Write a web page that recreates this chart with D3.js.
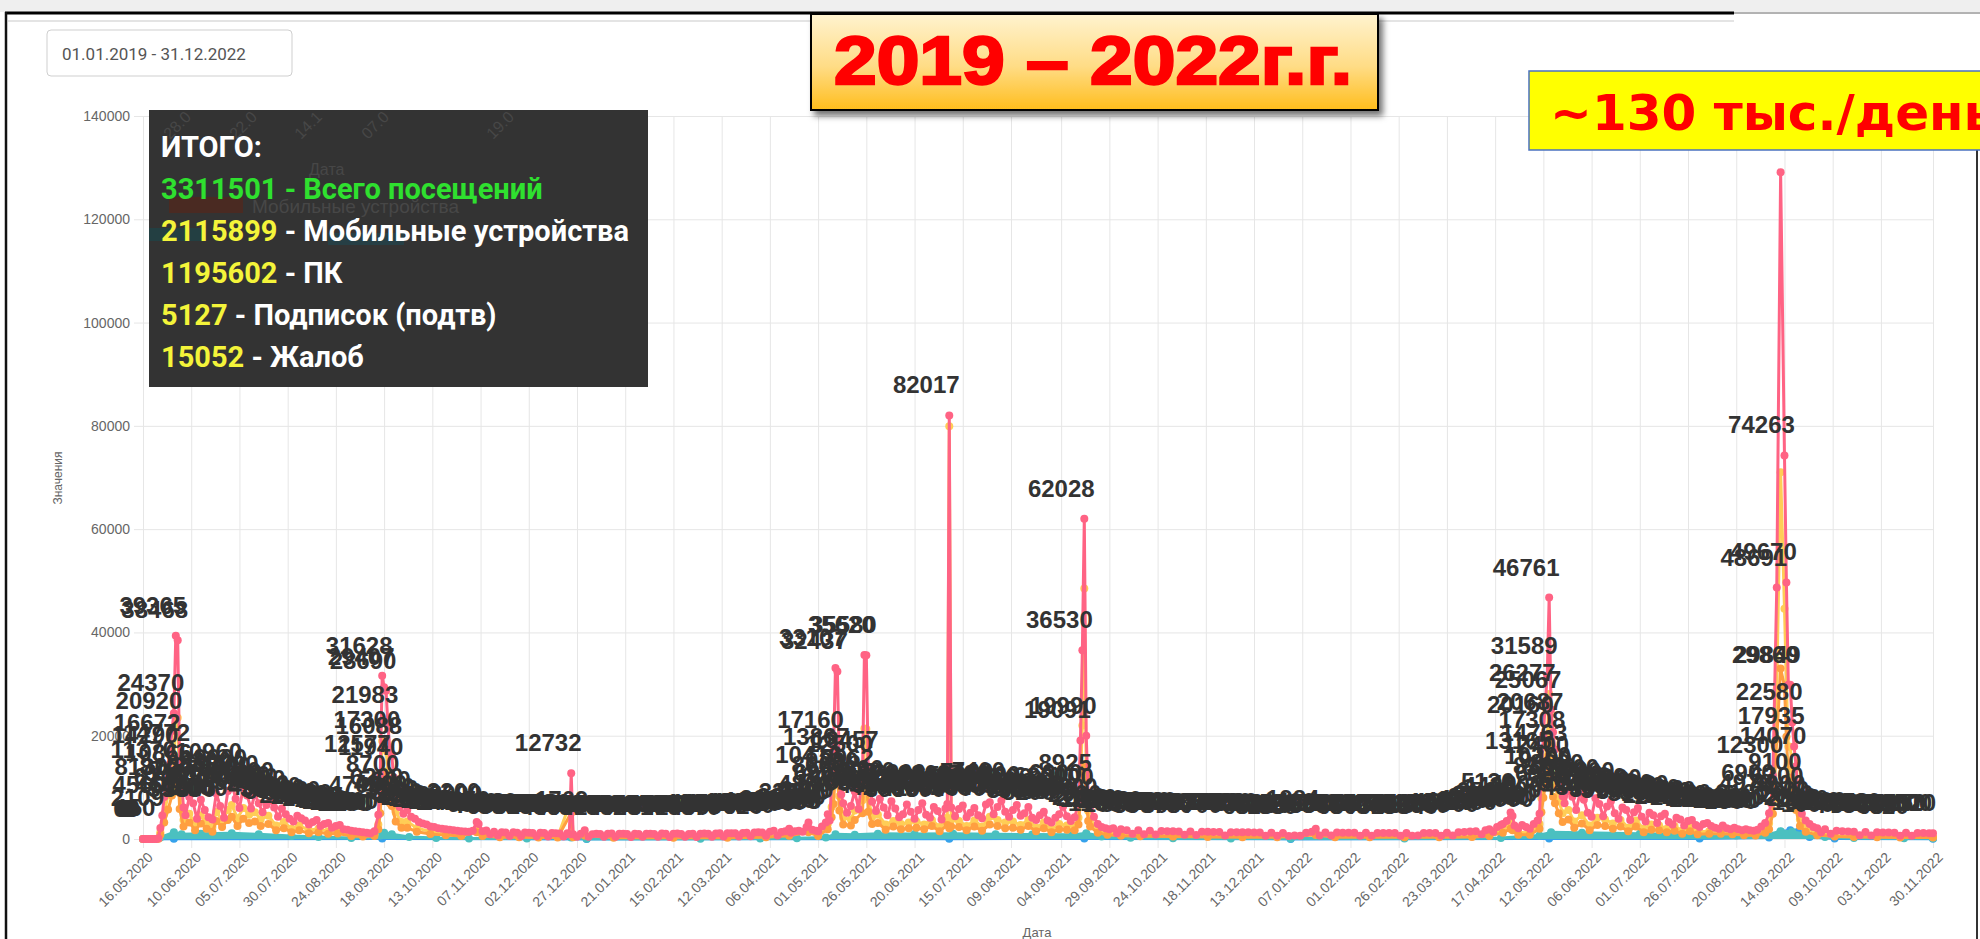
<!DOCTYPE html>
<html>
<head>
<meta charset="utf-8">
<script src="https://cdn.jsdelivr.net/npm/d3@7"></script>
<style>
html, body { margin: 0; padding: 0; background: #fff; overflow: hidden; }
svg { display: block; }
</style>
</head>
<body>
<svg id="chart" width="1980" height="939"></svg>
<script>
// x ticks (every 25 days, last one is the end of the data)
const xTickLabels = ["16.05.2020","10.06.2020","05.07.2020","30.07.2020","24.08.2020","18.09.2020","13.10.2020","07.11.2020","02.12.2020","27.12.2020","21.01.2021","15.02.2021","12.03.2021","06.04.2021","01.05.2021","26.05.2021","20.06.2021","15.07.2021","09.08.2021","04.09.2021","29.09.2021","24.10.2021","18.11.2021","13.12.2021","07.01.2022","01.02.2022","26.02.2022","23.03.2022","17.04.2022","12.05.2022","06.06.2022","01.07.2022","26.07.2022","20.08.2022","14.09.2022","09.10.2022","03.11.2022","30.11.2022"];
const yTicks = [0, 20000, 40000, 60000, 80000, 100000, 120000, 140000];

// Всего посещений (the only series with value labels)
const total = [["16.05.2020",0],["17.05.2020",0],["18.05.2020",0],["19.05.2020",0],["20.05.2020",0],["21.05.2020",0],["22.05.2020",0],["23.05.2020",0],["24.05.2020",150],["25.05.2020",2109],["26.05.2020",4560],["27.05.2020",8130],["28.05.2020",11370],["29.05.2020",14290],["30.05.2020",16672],["31.05.2020",20920],["01.06.2020",24370],["02.06.2020",39365],["03.06.2020",38468],["04.06.2020",14772],["05.06.2020",10866],["06.06.2020",6100],["07.06.2020",4600],["09.06.2020",8120],["11.06.2020",6940],["13.06.2020",3900],["15.06.2020",7600],["17.06.2020",5600],["19.06.2020",4200],["21.06.2020",3800],["23.06.2020",8800],["25.06.2020",6400],["27.06.2020",4100],["29.06.2020",9300],["01.07.2020",10960],["03.07.2020",7800],["05.07.2020",6000],["07.07.2020",9900],["09.07.2020",8400],["11.07.2020",5900],["13.07.2020",8700],["15.07.2020",6900],["17.07.2020",5200],["19.07.2020",6600],["21.07.2020",7400],["23.07.2020",6100],["25.07.2020",4300],["27.07.2020",5900],["29.07.2020",4800],["31.07.2020",3900],["02.08.2020",3400],["04.08.2020",4500],["06.08.2020",4000],["08.08.2020",3600],["10.08.2020",2800],["12.08.2020",3300],["14.08.2020",3700],["16.08.2020",2500],["18.08.2020",2900],["20.08.2020",3100],["22.08.2020",2200],["24.08.2020",2500],["26.08.2020",2700],["28.08.2020",1900],["30.08.2020",1800],["01.09.2020",1600],["03.09.2020",1500],["05.09.2020",1400],["07.09.2020",1300],["09.09.2020",1200],["11.09.2020",1100],["13.09.2020",1500],["15.09.2020",4700],["16.09.2020",12577],["17.09.2020",31628],["18.09.2020",29407],["19.09.2020",28690],["20.09.2020",21983],["21.09.2020",17300],["22.09.2020",16088],["23.09.2020",11940],["24.09.2020",8700],["26.09.2020",6200],["28.09.2020",4900],["30.09.2020",5600],["02.10.2020",4300],["04.10.2020",3900],["06.10.2020",3300],["08.10.2020",3000],["10.10.2020",2800],["12.10.2020",2400],["14.10.2020",2300],["16.10.2020",2100],["18.10.2020",2000],["20.10.2020",1900],["22.10.2020",1800],["24.10.2020",1700],["26.10.2020",1600],["28.10.2020",1500],["30.10.2020",1450],["01.11.2020",1400],["03.11.2020",1600],["05.11.2020",3300],["06.11.2020",2900],["08.11.2020",1500],["10.11.2020",1650],["12.11.2020",900],["14.11.2020",1400],["16.11.2020",700],["18.11.2020",1300],["20.11.2020",1250],["22.11.2020",600],["24.11.2020",1300],["26.11.2020",1200],["28.11.2020",550],["30.11.2020",1250],["02.12.2020",1200],["04.12.2020",1150],["06.12.2020",520],["08.12.2020",1200],["10.12.2020",1150],["12.12.2020",500],["14.12.2020",1150],["16.12.2020",1100],["18.12.2020",1050],["20.12.2020",480],["22.12.2020",1100],["23.12.2020",900],["24.12.2020",12732],["25.12.2020",900],["27.12.2020",450],["29.12.2020",1000],["31.12.2020",1709],
["02.01.2021",450],["04.01.2021",900],["06.01.2021",1000],["08.01.2021",980],["10.01.2021",420],["12.01.2021",1000],["14.01.2021",1050],["16.01.2021",430],["18.01.2021",1000],["20.01.2021",1020],["22.01.2021",980],["24.01.2021",400],["26.01.2021",1000],["28.01.2021",990],["30.01.2021",420],["01.02.2021",1010],["03.02.2021",1040],["05.02.2021",980],["07.02.2021",430],["09.02.2021",1050],["11.02.2021",1000],["13.02.2021",410],["15.02.2021",1020],["17.02.2021",1050],["19.02.2021",990],["21.02.2021",420],["23.02.2021",980],["25.02.2021",1010],["27.02.2021",400],["01.03.2021",1040],["03.03.2021",1060],["05.03.2021",1020],["07.03.2021",450],["09.03.2021",1080],["11.03.2021",1100],["13.03.2021",470],["15.03.2021",1090],["17.03.2021",1120],["19.03.2021",1100],["21.03.2021",500],["23.03.2021",1180],["25.03.2021",1200],["27.03.2021",540],["29.03.2021",1260],["31.03.2021",1300],["02.04.2021",1280],["04.04.2021",620],["06.04.2021",1400],["08.04.2021",1600],["10.04.2021",700],["12.04.2021",1350],["14.04.2021",1500],["16.04.2021",2000],["17.04.2021",1200],["19.04.2021",1500],["21.04.2021",1600],["23.04.2021",1400],["25.04.2021",2300],["26.04.2021",3200],["28.04.2021",1800],["30.04.2021",1600],["01.05.2021",1500],["03.05.2021",2400],["05.05.2021",3200],["06.05.2021",4800],["07.05.2021",3600],["08.05.2021",10416],["09.05.2021",17160],["10.05.2021",33107],["11.05.2021",32437],["12.05.2021",13867],["13.05.2021",8600],["14.05.2021",6900],["16.05.2021",5100],["18.05.2021",6400],["20.05.2021",9200],["22.05.2021",5800],["24.05.2021",12500],["25.05.2021",35620],["26.05.2021",35580],["27.05.2021",13457],["28.05.2021",9962],["29.05.2021",7200],["31.05.2021",5400],["02.06.2021",7800],["04.06.2021",6100],["06.06.2021",4600],["08.06.2021",7300],["10.06.2021",5900],["12.06.2021",4200],["14.06.2021",4800],["16.06.2021",6700],["18.06.2021",5300],["20.06.2021",3900],["22.06.2021",5600],["24.06.2021",6900],["26.06.2021",4700],["28.06.2021",4100],["30.06.2021",6200],["02.07.2021",5400],["04.07.2021",3800],["06.07.2021",5900],["07.07.2021",6800],["08.07.2021",82017],["09.07.2021",6100],["11.07.2021",4400],["13.07.2021",5800],["15.07.2021",6500],["17.07.2021",4200],["19.07.2021",5100],["21.07.2021",6000],["23.07.2021",4600],["25.07.2021",4000],["27.07.2021",6700],["29.07.2021",7100],["31.07.2021",4800],["02.08.2021",6200],["04.08.2021",7400],["06.08.2021",5300],["08.08.2021",4300],["10.08.2021",5600],["12.08.2021",6600],["14.08.2021",4500],["16.08.2021",5000],["18.08.2021",6200],["20.08.2021",4100],["22.08.2021",3700],["24.08.2021",4600],["26.08.2021",5300],["28.08.2021",3600],["30.08.2021",3200],["01.09.2021",4100],["03.09.2021",4800],["05.09.2021",6300],["07.09.2021",4400],["09.09.2021",3500],["11.09.2021",4200],["13.09.2021",6900],["14.09.2021",19091],["15.09.2021",36530],["16.09.2021",62028],["17.09.2021",19990],["18.09.2021",8925],["19.09.2021",6100],["21.09.2021",4300],["23.09.2021",2900],["25.09.2021",2300],["27.09.2021",2100],["29.09.2021",1900],["01.10.2021",2100],["03.10.2021",1100],["05.10.2021",1900],["08.10.2021",1700],["11.10.2021",1000],["14.10.2021",1700],["17.10.2021",900],["20.10.2021",1600],["23.10.2021",850],["26.10.2021",1550],["29.10.2021",1500],["01.11.2021",1500],["04.11.2021",1450],["07.11.2021",800],["10.11.2021",1450],["13.11.2021",780],["16.11.2021",1400],["19.11.2021",1380],["22.11.2021",1350],["25.11.2021",1350],["28.11.2021",700],["01.12.2021",1330],["04.12.2021",1300],["07.12.2021",1300],["10.12.2021",1290],["13.12.2021",1280],["16.12.2021",1250],["19.12.2021",650],["22.12.2021",1230],["25.12.2021",620],["28.12.2021",1150],["31.12.2021",600],
["03.01.2022",700],["06.01.2022",650],["09.01.2022",1200],["12.01.2022",1400],["14.01.2022",1984],["16.01.2022",700],["19.01.2022",1250],["22.01.2022",680],["25.01.2022",1250],["28.01.2022",1200],["31.01.2022",1220],["03.02.2022",1200],["06.02.2022",650],["09.02.2022",1200],["12.02.2022",640],["15.02.2022",1180],["18.02.2022",1170],["21.02.2022",1150],["24.02.2022",1160],["27.02.2022",620],["02.03.2022",1150],["05.03.2022",630],["08.03.2022",680],["11.03.2022",1140],["14.03.2022",1150],["17.03.2022",1160],["20.03.2022",640],["23.03.2022",1200],["26.03.2022",680],["29.03.2022",1300],["01.04.2022",1350],["04.04.2022",1450],["07.04.2022",1500],["10.04.2022",900],["12.04.2022",1700],["14.04.2022",1900],["16.04.2022",1400],["18.04.2022",2300],["20.04.2022",2700],["21.04.2022",2900],["23.04.2022",3500],["25.04.2022",5136],["26.04.2022",4438],["27.04.2022",2600],["29.04.2022",2100],["01.05.2022",2700],["03.05.2022",2300],["05.05.2022",2000],["07.05.2022",2900],["09.05.2022",3600],["10.05.2022",4900],["11.05.2022",13165],["12.05.2022",20160],["13.05.2022",26277],["14.05.2022",31589],["15.05.2022",46761],["16.05.2022",25067],["17.05.2022",20687],["18.05.2022",17308],["19.05.2022",14763],["20.05.2022",12400],["21.05.2022",10200],["22.05.2022",8300],["23.05.2022",6900],["25.05.2022",9400],["27.05.2022",8200],["29.05.2022",5600],["31.05.2022",8900],["02.06.2022",7600],["04.06.2022",5100],["06.06.2022",4300],["08.06.2022",7900],["10.06.2022",6800],["12.06.2022",4400],["14.06.2022",6300],["16.06.2022",7300],["18.06.2022",5000],["20.06.2022",3900],["22.06.2022",6100],["24.06.2022",5600],["26.06.2022",3700],["28.06.2022",5200],["30.06.2022",6000],["02.07.2022",4300],["04.07.2022",3400],["06.07.2022",5100],["08.07.2022",4600],["10.07.2022",3100],["12.07.2022",4400],["14.07.2022",4900],["16.07.2022",3300],["18.07.2022",2800],["20.07.2022",4100],["22.07.2022",3800],["24.07.2022",2600],["26.07.2022",3500],["28.07.2022",3700],["30.07.2022",2700],["01.08.2022",2300],["03.08.2022",2900],["05.08.2022",3100],["07.08.2022",2500],["09.08.2022",2200],["11.08.2022",2000],["13.08.2022",2600],["15.08.2022",2100],["17.08.2022",1900],["19.08.2022",2200],["21.08.2022",1900],["23.08.2022",1700],["25.08.2022",1900],["27.08.2022",1700],["29.08.2022",1600],["31.08.2022",1800],["02.09.2022",2400],["04.09.2022",3100],["06.09.2022",4970],["07.09.2022",6900],["08.09.2022",12300],["10.09.2022",48691],["12.09.2022",129100],["14.09.2022",74263],["15.09.2022",49670],["16.09.2022",29860],["17.09.2022",29849],["18.09.2022",22580],["19.09.2022",17935],["20.09.2022",14070],["21.09.2022",9100],["22.09.2022",6300],["23.09.2022",4900],["25.09.2022",3600],["27.09.2022",2900],["29.09.2022",2300],["01.10.2022",2100],["03.10.2022",1300],["05.10.2022",1900],["08.10.2022",1000],["11.10.2022",1600],["14.10.2022",1500],["17.10.2022",1450],["20.10.2022",1400],["23.10.2022",750],["26.10.2022",1350],["29.10.2022",700],["01.11.2022",1300],["04.11.2022",1250],["07.11.2022",1250],["10.11.2022",1200],["13.11.2022",650],["16.11.2022",1200],["19.11.2022",620],["22.11.2022",1150],["25.11.2022",1150],["28.11.2022",1100],["30.11.2022",1120]];

// Мобильные устройства
const mobile = [["16.05.2020",0],["24.05.2020",100],["25.05.2020",1300],["27.05.2020",4900],["29.05.2020",8600],["31.05.2020",12500],["01.06.2020",14600],["02.06.2020",24000],["03.06.2020",23500],["04.06.2020",8900],["06.06.2020",3700],["09.06.2020",4900],["12.06.2020",2800],["15.06.2020",4600],["18.06.2020",3100],["21.06.2020",2300],["23.06.2020",5300],["26.06.2020",3600],["29.06.2020",5600],["01.07.2020",6600],["04.07.2020",4000],["07.07.2020",6000],["10.07.2020",4700],["13.07.2020",5200],["16.07.2020",3800],["20.07.2020",4500],["24.07.2020",2600],["28.07.2020",3300],["01.08.2020",2000],["05.08.2020",2600],["10.08.2020",1700],["15.08.2020",2000],["20.08.2020",1500],["25.08.2020",1600],["01.09.2020",950],["07.09.2020",780],["13.09.2020",900],["15.09.2020",2800],["16.09.2020",7500],["17.09.2020",19000],["18.09.2020",17600],["19.09.2020",17200],["20.09.2020",13200],["21.09.2020",10400],["22.09.2020",9600],["24.09.2020",5200],["27.09.2020",3300],["30.09.2020",3400],["05.10.2020",2100],["12.10.2020",1450],["20.10.2020",1150],["28.10.2020",900],["05.11.2020",2000],["08.11.2020",900],["17.11.2020",540],["27.11.2020",480],["07.12.2020",430],["17.12.2020",410],["24.12.2020",7600],["25.12.2020",540],["31.12.2020",1000],
["15.01.2021",380],["15.02.2021",360],["15.03.2021",390],["04.04.2021",490],["16.04.2021",960],["26.04.2021",1900],["01.05.2021",900],["06.05.2021",2900],["08.05.2021",6200],["09.05.2021",10300],["10.05.2021",19900],["11.05.2021",19500],["12.05.2021",8300],["14.05.2021",4100],["18.05.2021",3800],["20.05.2021",5500],["24.05.2021",7500],["25.05.2021",21400],["26.05.2021",21300],["27.05.2021",8100],["29.05.2021",4300],["01.06.2021",4700],["05.06.2021",2800],["09.06.2021",3500],["13.06.2021",2900],["17.06.2021",3200],["21.06.2021",3400],["25.06.2021",2800],["29.06.2021",3700],["03.07.2021",2300],["07.07.2021",4100],["08.07.2021",79900],["09.07.2021",3700],["13.07.2021",3500],["17.07.2021",2500],["21.07.2021",3600],["25.07.2021",2400],["29.07.2021",4300],["02.08.2021",3700],["06.08.2021",3200],["10.08.2021",3400],["14.08.2021",2700],["18.08.2021",3700],["22.08.2021",2200],["26.08.2021",3200],["30.08.2021",1900],["03.09.2021",2900],["07.09.2021",2600],["11.09.2021",2500],["13.09.2021",4100],["14.09.2021",11500],["15.09.2021",22000],["16.09.2021",48500],["17.09.2021",12000],["18.09.2021",5400],["19.09.2021",3700],["23.09.2021",1700],["28.09.2021",1200],["05.10.2021",950],["15.10.2021",760],["01.11.2021",650],["19.11.2021",580],["07.12.2021",540],["25.12.2021",510],
["14.01.2022",1200],["24.01.2022",520],["11.02.2022",500],["01.03.2022",480],["19.03.2022",490],["05.04.2022",580],["14.04.2022",900],["21.04.2022",1800],["25.04.2022",3100],["26.04.2022",2700],["29.04.2022",1300],["05.05.2022",1200],["10.05.2022",2900],["11.05.2022",7900],["12.05.2022",12100],["13.05.2022",15800],["14.05.2022",19000],["15.05.2022",28100],["16.05.2022",15000],["17.05.2022",12400],["18.05.2022",10400],["20.05.2022",7400],["22.05.2022",5000],["25.05.2022",5600],["28.05.2022",3400],["01.06.2022",4600],["05.06.2022",2600],["09.06.2022",4100],["13.06.2022",3800],["17.06.2022",3000],["21.06.2022",3700],["25.06.2022",2200],["29.06.2022",3600],["03.07.2022",2000],["07.07.2022",2800],["11.07.2022",2600],["15.07.2022",2000],["19.07.2022",2500],["23.07.2022",1600],["27.07.2022",2200],["31.07.2022",1400],["06.08.2022",1500],["12.08.2022",1600],["18.08.2022",1300],["24.08.2022",1150],["30.08.2022",1100],["04.09.2022",1900],["06.09.2022",3000],["08.09.2022",7400],["10.09.2022",29200],["12.09.2022",71000],["14.09.2022",44600],["15.09.2022",29800],["16.09.2022",17900],["17.09.2022",17850],["18.09.2022",13500],["19.09.2022",10800],["20.09.2022",8400],["22.09.2022",3800],["25.09.2022",2200],["01.10.2022",1150],["10.10.2022",700],["20.10.2022",540],["01.11.2022",470],["13.11.2022",440],["30.11.2022",400]];

// ПК
const pc = [["16.05.2020",0],["24.05.2020",50],["25.05.2020",800],["27.05.2020",3200],["29.05.2020",5700],["31.05.2020",8400],["01.06.2020",9800],["02.06.2020",15300],["03.06.2020",14900],["04.06.2020",5800],["06.06.2020",2400],["09.06.2020",3200],["12.06.2020",1700],["15.06.2020",3000],["18.06.2020",2000],["21.06.2020",1400],["23.06.2020",3500],["26.06.2020",2300],["29.06.2020",3700],["01.07.2020",4300],["04.07.2020",2500],["07.07.2020",3900],["10.07.2020",3100],["13.07.2020",3400],["16.07.2020",2500],["20.07.2020",2900],["24.07.2020",1700],["28.07.2020",2100],["01.08.2020",1300],["05.08.2020",1700],["10.08.2020",1100],["15.08.2020",1300],["20.08.2020",1000],["25.08.2020",1050],["01.09.2020",600],["07.09.2020",500],["13.09.2020",580],["15.09.2020",1900],["16.09.2020",5000],["17.09.2020",12600],["18.09.2020",11800],["19.09.2020",11500],["20.09.2020",8700],["21.09.2020",6900],["22.09.2020",6400],["24.09.2020",3400],["27.09.2020",2200],["30.09.2020",2200],["05.10.2020",1400],["12.10.2020",950],["20.10.2020",750],["28.10.2020",600],["05.11.2020",1300],["08.11.2020",600],["17.11.2020",360],["27.11.2020",320],["07.12.2020",290],["17.12.2020",280],["24.12.2020",5100],["25.12.2020",360],["31.12.2020",700],
["15.01.2021",240],["15.02.2021",240],["15.03.2021",250],["04.04.2021",330],["16.04.2021",640],["26.04.2021",1300],["01.05.2021",600],["06.05.2021",1900],["08.05.2021",4200],["09.05.2021",6800],["10.05.2021",13200],["11.05.2021",12900],["12.05.2021",5500],["14.05.2021",2800],["18.05.2021",2600],["20.05.2021",3700],["24.05.2021",5000],["25.05.2021",14200],["26.05.2021",14300],["27.05.2021",5300],["29.05.2021",2900],["01.06.2021",3100],["05.06.2021",1800],["09.06.2021",2400],["13.06.2021",1900],["17.06.2021",2100],["21.06.2021",2200],["25.06.2021",1900],["29.06.2021",2500],["03.07.2021",1500],["07.07.2021",2700],["08.07.2021",2100],["09.07.2021",2400],["13.07.2021",2300],["17.07.2021",1700],["21.07.2021",2400],["25.07.2021",1600],["29.07.2021",2800],["02.08.2021",2500],["06.08.2021",2100],["10.08.2021",2200],["14.08.2021",1800],["18.08.2021",2500],["22.08.2021",1500],["26.08.2021",2100],["30.08.2021",1300],["03.09.2021",1900],["07.09.2021",1800],["11.09.2021",1700],["13.09.2021",2800],["14.09.2021",7600],["15.09.2021",14500],["16.09.2021",13500],["17.09.2021",7900],["18.09.2021",3500],["19.09.2021",2400],["23.09.2021",1200],["28.09.2021",800],["05.10.2021",650],["15.10.2021",520],["01.11.2021",460],["19.11.2021",400],["07.12.2021",360],["25.12.2021",340],
["14.01.2022",780],["24.01.2022",350],["11.02.2022",330],["01.03.2022",320],["19.03.2022",320],["05.04.2022",380],["14.04.2022",600],["21.04.2022",1200],["25.04.2022",2000],["26.04.2022",1700],["29.04.2022",800],["05.05.2022",800],["10.05.2022",2000],["11.05.2022",5200],["12.05.2022",8000],["13.05.2022",10400],["14.05.2022",12500],["15.05.2022",18600],["16.05.2022",10000],["17.05.2022",8200],["18.05.2022",6900],["20.05.2022",5000],["22.05.2022",3300],["25.05.2022",3800],["28.05.2022",2200],["01.06.2022",3000],["05.06.2022",1700],["09.06.2022",2700],["13.06.2022",2500],["17.06.2022",2000],["21.06.2022",2400],["25.06.2022",1500],["29.06.2022",2400],["03.07.2022",1300],["07.07.2022",1800],["11.07.2022",1700],["15.07.2022",1300],["19.07.2022",1600],["23.07.2022",1000],["27.07.2022",1500],["31.07.2022",900],["06.08.2022",1000],["12.08.2022",1000],["18.08.2022",900],["24.08.2022",750],["30.08.2022",700],["04.09.2022",1200],["06.09.2022",1900],["08.09.2022",4900],["10.09.2022",19400],["12.09.2022",33000],["14.09.2022",29600],["15.09.2022",19800],["16.09.2022",11900],["17.09.2022",11950],["18.09.2022",9000],["19.09.2022",7100],["20.09.2022",5600],["22.09.2022",2500],["25.09.2022",1400],["01.10.2022",750],["10.10.2022",480],["20.10.2022",380],["01.11.2022",330],["13.11.2022",300],["30.11.2022",280]];

// бирюзовая серия (заливка у нуля)
const teal = [["16.05.2020",0],["25.05.2020",300],["01.06.2020",1300],["05.06.2020",900],["15.06.2020",1000],["01.07.2020",1100],["15.07.2020",900],["01.08.2020",600],["15.08.2020",400],["01.09.2020",200],["16.09.2020",700],["18.09.2020",1200],["22.09.2020",900],["01.10.2020",400],["15.10.2020",200],["01.11.2020",120],["01.12.2020",80],["24.12.2020",300],["01.01.2021",70],["01.03.2021",60],["01.04.2021",80],["20.04.2021",150],["05.05.2021",300],["10.05.2021",900],["20.05.2021",800],["01.06.2021",1000],["20.06.2021",950],["10.07.2021",1000],["01.08.2021",900],["20.08.2021",850],["10.09.2021",800],["17.09.2021",1100],["25.09.2021",500],["10.10.2021",250],["01.11.2021",150],["01.12.2021",110],["01.01.2022",100],["01.03.2022",90],["20.04.2022",200],["10.05.2022",700],["16.05.2022",1300],["01.06.2022",1200],["01.07.2022",1000],["01.08.2022",800],["20.08.2022",700],["05.09.2022",800],["12.09.2022",1500],["18.09.2022",1400],["25.09.2022",900],["05.10.2022",400],["20.10.2022",200],["15.11.2022",150],["30.11.2022",130]];

// синяя серия
const blue = [["16.05.2020",0],["01.06.2020",60],["17.09.2020",90],["01.01.2021",20],["08.07.2021",70],["16.09.2021",100],["01.01.2022",20],["15.05.2022",120],["01.08.2022",80],["06.09.2022",300],["12.09.2022",1400],["17.09.2022",1700],["21.09.2022",1400],["27.09.2022",400],["10.10.2022",90],["30.11.2022",40]];

const summary = [
  { num: "3311501", text: " - Всего посещений", numColor: "#2fe02f", textColor: "#2fe02f" },
  { num: "2115899", text: " - Мобильные устройства", numColor: "#f4f43a", textColor: "#ffffff" },
  { num: "1195602", text: " - ПК", numColor: "#f4f43a", textColor: "#ffffff" },
  { num: "5127", text: " - Подписок (подтв)", numColor: "#f4f43a", textColor: "#ffffff" },
  { num: "15052", text: " - Жалоб", numColor: "#f4f43a", textColor: "#ffffff" }
];

const parse = d3.timeParse("%d.%m.%Y");
const fmt = d3.timeFormat("%d.%m.%Y");
const baseFont = "'Liberation Sans', Arial, Helvetica, sans-serif";
const gridColor = "#e6e6e6";

const svg = d3.select("#chart");
const plot = { left: 143, right: 1933, top: 116, bottom: 839 };

// page frame
svg.append("rect").attr("x", 0).attr("y", 0).attr("width", 1980).attr("height", 12).attr("fill", "#efefef");
svg.append("line").attr("x1", 1734).attr("x2", 1980).attr("y1", 13).attr("y2", 13).attr("stroke", "#666").attr("stroke-width", 1);
svg.append("line").attr("x1", 5).attr("x2", 1734).attr("y1", 13).attr("y2", 13).attr("stroke", "#000").attr("stroke-width", 3);
svg.append("line").attr("x1", 8).attr("x2", 1734).attr("y1", 21).attr("y2", 21).attr("stroke", "#e4e4e4").attr("stroke-width", 2);
svg.append("line").attr("x1", 6).attr("x2", 6).attr("y1", 12).attr("y2", 939).attr("stroke", "#111").attr("stroke-width", 2.5);
svg.append("line").attr("x1", 1977).attr("x2", 1977).attr("y1", 150).attr("y2", 939).attr("stroke", "#333").attr("stroke-width", 2);

const x = d3.scaleTime()
  .domain([parse(xTickLabels[0]), parse(xTickLabels[xTickLabels.length - 1])])
  .range([plot.left, plot.right]);
const y = d3.scaleLinear().domain([0, 140000]).range([plot.bottom, plot.top]);

// grid + axes
const gy = svg.append("g")
  .attr("transform", `translate(${plot.left - 9},0)`)
  .call(d3.axisLeft(y).tickValues(yTicks).tickFormat(d3.format("d"))
    .tickSizeInner(-(plot.right - plot.left + 9)).tickSizeOuter(0).tickPadding(4));
gy.select(".domain").remove();
gy.selectAll(".tick line").attr("stroke", gridColor);
gy.selectAll(".tick text").attr("fill", "#666").attr("font-size", 14).attr("font-family", baseFont);

const gx = svg.append("g")
  .attr("transform", `translate(0,${plot.bottom + 9})`)
  .call(d3.axisBottom(x).tickValues(xTickLabels.map(parse)).tickFormat(fmt)
    .tickSizeInner(-(plot.bottom + 9 - plot.top)).tickSizeOuter(0));
gx.select(".domain").remove();
gx.selectAll(".tick line").attr("stroke", gridColor);
gx.selectAll(".tick text")
  .attr("fill", "#666").attr("font-size", 14).attr("font-family", baseFont)
  .attr("text-anchor", "end")
  .attr("transform", "rotate(-45)")
  .attr("x", 0).attr("y", 4).attr("dy", "0.75em");

svg.append("text")
  .attr("transform", "translate(62,478) rotate(-90)")
  .attr("text-anchor", "middle").attr("font-family", baseFont).attr("font-size", 12).attr("fill", "#666")
  .text("Значения");
svg.append("text")
  .attr("x", 1037).attr("y", 937).attr("text-anchor", "middle")
  .attr("font-family", baseFont).attr("font-size", 13).attr("fill", "#666")
  .text("Дата");

const toPoints = data => data.map(([d, v]) => ({ date: parse(d), value: v }));
const line = d3.line().x(d => x(d.date)).y(d => y(d.value));
const area = d3.area().x(d => x(d.date)).y0(y(0)).y1(d => y(d.value));

const gLines = svg.append("g");

function drawSeries(data, color, withArea) {
  const pts = toPoints(data);
  if (withArea) {
    gLines.append("path").datum(pts).attr("fill", color).attr("d", area);
  }
  gLines.append("path")
    .datum(pts)
    .attr("fill", "none")
    .attr("stroke", color)
    .attr("stroke-width", 3)
    .attr("stroke-linejoin", "round")
    .attr("d", line);
  gLines.selectAll(null)
    .data(pts)
    .join("circle")
    .attr("cx", d => x(d.date))
    .attr("cy", d => y(d.value))
    .attr("r", 4)
    .attr("fill", color);
  return pts;
}

drawSeries(blue, "#36a2eb", false);
drawSeries(teal, "#4bc0c0", true);
drawSeries(mobile, "#ffcd56", false);
drawSeries(pc, "#ff9f40", false);
const totalPts = drawSeries(total, "#ff6384", false);

// value labels over every point of the total
svg.append("g")
  .attr("font-family", baseFont).attr("font-size", 24).attr("font-weight", 700)
  .attr("fill", "#333").attr("text-anchor", "middle")
  .selectAll("text")
  .data(totalPts)
  .join("text")
  .attr("x", d => x(d.date) - 23)
  .attr("y", d => y(d.value) - 22)
  .text(d => d.value);

// date range box
svg.append("rect").attr("x", 47).attr("y", 30).attr("width", 245).attr("height", 46).attr("rx", 4)
  .attr("fill", "#fff").attr("stroke", "#cfcfcf");
svg.append("text").attr("x", 62).attr("y", 60)
  .attr("font-family", "Roboto, 'Liberation Sans', sans-serif").attr("font-size", 17).attr("fill", "#555")
  .text("01.01.2019 - 31.12.2022");

const defs = svg.append("defs");
defs.append("clipPath").attr("id", "boxClip")
  .append("rect").attr("x", 149).attr("y", 110).attr("width", 499).attr("height", 277);

// summary box
const box = svg.append("g");
box.append("rect").attr("x", 149).attr("y", 110).attr("width", 499).attr("height", 277).attr("fill", "#333");
// faint remains of the original legend under the box
const ghost = box.append("g").attr("clip-path", "url(#boxClip)").attr("font-family", baseFont).attr("fill", "#474747");
ghost.append("rect").attr("x", 169).attr("y", 197).attr("width", 74).attr("height", 16).attr("fill", "#4a2a22");
ghost.append("rect").attr("x", 149).attr("y", 228).attr("width", 57).attr("height", 13).attr("fill", "#233f42");
ghost.append("rect").attr("x", 328).attr("y", 233).attr("width", 76).attr("height", 12).attr("fill", "#263f45");
ghost.append("text").attr("x", 252).attr("y", 213).attr("font-size", 19).text("Мобильные устройства");
ghost.append("text").attr("x", 309).attr("y", 175).attr("font-size", 16).text("Дата");
[["28.0", 170], ["22.0", 236], ["14.1", 301], ["07.0", 368], ["19.0", 493]].forEach(([t, px]) => {
  ghost.append("text").attr("transform", `translate(${px},140) rotate(-45)`).attr("font-size", 16).text(t);
});

const boxFont = "Roboto, 'Noto Sans', sans-serif";
box.append("text").attr("x", 161).attr("y", 157)
  .attr("font-family", boxFont).attr("font-weight", 700).attr("font-size", 29).attr("fill", "#fff")
  .text("ИТОГО:");
summary.forEach((row, i) => {
  const t = box.append("text").attr("x", 161).attr("y", 199 + i * 42)
    .attr("font-family", boxFont).attr("font-weight", 700).attr("font-size", 29);
  t.append("tspan").attr("fill", row.numColor).text(row.num);
  t.append("tspan").attr("fill", row.textColor).text(row.text);
});

// title plate
const grad = defs.append("linearGradient").attr("id", "plate").attr("x1", 0).attr("y1", 0).attr("x2", 0).attr("y2", 1);
grad.append("stop").attr("offset", "0%").attr("stop-color", "#fff3cf");
grad.append("stop").attr("offset", "55%").attr("stop-color", "#ffdc85");
grad.append("stop").attr("offset", "100%").attr("stop-color", "#ffbd1c");
const shadow = defs.append("filter").attr("id", "shadow").attr("x", "-10%").attr("y", "-10%").attr("width", "130%").attr("height", "150%");
shadow.append("feDropShadow").attr("dx", 4).attr("dy", 5).attr("stdDeviation", 3).attr("flood-color", "#000").attr("flood-opacity", 0.55);

svg.append("rect").attr("x", 811).attr("y", 14).attr("width", 567).attr("height", 96)
  .attr("fill", "url(#plate)").attr("stroke", "#000").attr("stroke-width", 2).attr("filter", "url(#shadow)");
svg.append("text").attr("x", 1093).attr("y", 84).attr("text-anchor", "middle")
  .attr("font-family", baseFont).attr("font-weight", 700).attr("font-size", 68)
  .attr("fill", "#ff0000").attr("stroke", "#ff0000").attr("stroke-width", 2.5)
  .attr("textLength", 518).attr("lengthAdjust", "spacingAndGlyphs")
  .text("2019 – 2022г.г.");

// per-day note
svg.append("rect").attr("x", 1529).attr("y", 71).attr("width", 470).attr("height", 79)
  .attr("fill", "#ffff00").attr("stroke", "#4a72c0").attr("stroke-width", 1.5);
svg.append("text").attr("x", 1550).attr("y", 130)
  .attr("font-family", "'DejaVu Sans', Verdana, sans-serif").attr("font-weight", 700).attr("font-size", 50)
  .attr("fill", "#ff0000")
  .text("~130 тыс./день");
</script>
</body>
</html>
